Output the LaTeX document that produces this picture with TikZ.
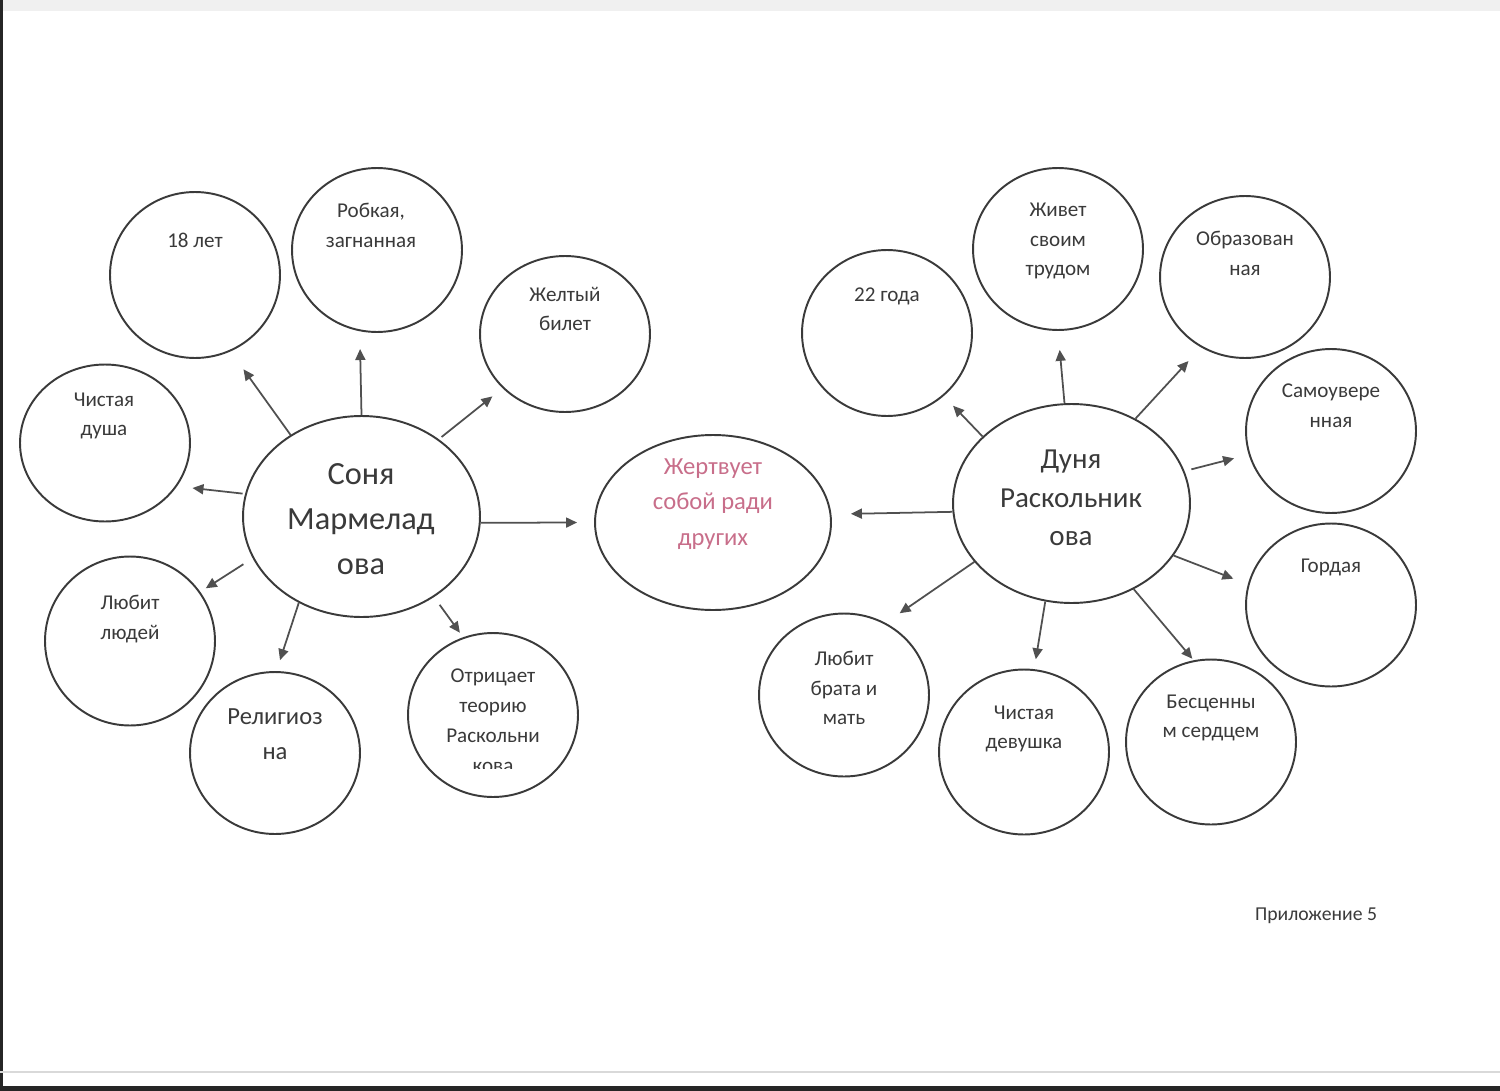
\documentclass[tikz,border=0pt]{standalone}
\usepackage{fontspec}
\setmainfont{Carlito}
\usetikzlibrary{shapes.geometric,arrows.meta}
\definecolor{ink}{HTML}{3A3A3A}
\definecolor{arrowgray}{HTML}{505050}
\definecolor{rosetext}{HTML}{C86E8A}
\tikzset{
  bub/.style={ellipse, draw=ink, line width=1.1pt, inner sep=0pt,
    minimum width=3.4cm, minimum height=3.28cm},
  hub/.style={bub, minimum width=4.74cm, minimum height=4.02cm},
  txt/.style={text=ink, align=center, inner sep=0pt,
    font=\fontsize{12}{17}\selectfont},
  link/.style={draw=arrowgray, line width=1pt,
    -{Triangle[length=2.2mm,width=2mm]}, shorten >=#1},
  link/.default=3mm
}
\begin{document}
\begin{tikzpicture}[x=0.02cm,y=-0.02cm]
\useasboundingbox (0,0) rectangle (1500,1091);
\fill[white] (0,0) rectangle (1500,1091);
% scan edges
\fill[black!6] (0,0) rectangle (1500,11);
\fill[black!85] (0,0) rectangle (3,1091);
\draw[black!15, line width=0.6pt] (0,1072) -- (1500,1072);
\fill[black!85] (0,1086) rectangle (1500,1091);
%
% Sonya
\node[hub] (soni) at (361.5,516.5) {};
\node[txt, font=\fontsize{18.4}{25.6}\selectfont] (soni-t) at (361,519) {Соня\\Мармелад\\ова};
\node[bub, minimum height=3.32cm] (age18) at (195,275) {};
\node[txt] (age18-t) at (195,240) {18 лет};
\node[bub] (robkaya) at (377,250) {};
\node[txt] (robkaya-t) at (371,225) {Робкая,\\загнанная};
\node[bub, minimum height=3.12cm] (bilet) at (565,334) {};
\node[txt] (bilet-t) at (565,309) {Желтый\\билет};
\node[bub, minimum height=3.14cm] (dusha) at (105,443) {};
\node[txt] (dusha-t) at (104,416) {Чистая\\душа};
\node[bub, minimum height=3.38cm] (lyudi) at (130,641) {};
\node[txt] (lyudi-t) at (130,619) {Любит\\людей};
\node[bub, minimum height=3.24cm] (religia) at (275,753) {};
\node[txt, font=\fontsize{14}{20}\selectfont] (religia-t) at (275,734) {Религиоз\\на};
\node[bub] (teoria) at (493,715) {};
\begin{scope}
  \clip (400,640) rectangle (590,768);
  \node[txt] (teoria-t) at (493,721) {Отрицает\\теорию\\Раскольни\\кова};
\end{scope}
%
% centre
\node[hub, minimum width=4.72cm, minimum height=3.5cm] (zhertva) at (713,522.5) {};
\node[txt, text=rosetext, font=\fontsize{14}{20}\selectfont] (zhertva-t) at (713,504) {Жертвует\\собой ради\\других};
%
% Dunya
\node[hub, minimum height=3.98cm] (duni) at (1071.5,503.5) {};
\node[txt, font=\fontsize{16.5}{21.9}\selectfont] (duni-t) at (1071,498) {Дуня\\Раскольник\\ова};
\node[bub, minimum height=3.32cm] (age22) at (887,333) {};
\node[txt] (age22-t) at (887,296) {22 года};
\node[bub, minimum height=3.24cm] (trud) at (1058,249) {};
\node[txt] (trud-t) at (1058,241) {Живет\\своим\\трудом};
\node[bub, minimum height=3.24cm] (obraz) at (1245,277) {};
\node[txt] (obraz-t) at (1245,253) {Образован\\ная};
\node[bub] (uveren) at (1331,431) {};
\node[txt] (uveren-t) at (1331,406) {Самоувере\\нная};
\node[bub, minimum height=3.26cm] (gordaya) at (1331,605) {};
\node[txt] (gordaya-t) at (1331,567) {Гордая};
\node[bub, minimum height=3.26cm] (brat) at (844,695) {};
\node[txt] (brat-t) at (844,688) {Любит\\брата и\\мать};
\node[bub, minimum height=3.3cm] (devushka) at (1024,752) {};
\node[txt] (devushka-t) at (1024,729) {Чистая\\девушка};
\node[bub, minimum height=3.3cm] (serdce) at (1211,742) {};
\node[txt] (serdce-t) at (1211,718) {Бесценны\\м сердцем};
%
\node[txt, font=\fontsize{11.2}{14}\selectfont] (prilozh) at (1316,916) {Приложение 5};
%
% arrows
\draw[link=4.4mm] (soni.131.3) -- (age18.295.2);
\draw[link=3.55mm] (soni.north) -- (robkaya.258.2);
\draw[link=2.6mm, shorten <=0.7mm] (soni.45.4) -- (bilet.221.7);
\draw[link=3.1mm, shorten <=0.5mm] (soni.169.7) -- (dusha.329);
\draw[link=3.4mm] (soni.-3) -- (zhertva.west);
\draw[link=1.3mm, shorten <=2.2mm] (soni.201) -- (lyudi.35.8);
\draw[link=2.3mm] (soni.234.2) -- (religia.89.1);
\draw[link=1.1mm, shorten <=1.9mm] (soni.312.2) -- (teoria.111.2);
%
\draw[link=3.9mm] (duni.184.6) -- (zhertva.4);
\draw[link=2.7mm] (duni.143.4) -- (age22.312.5);
\draw[link=3.8mm] (duni.94.9) -- (trud.270.7);
\draw[link=3.7mm] (duni.53.7) -- (obraz.238.1);
\draw[link=3mm, shorten <=1.4mm] (duni.16.7) -- (uveren.196.5);
\draw[link=3.1mm] (duni.333.5) -- (gordaya.166.9);
\draw[link=0.4mm] (duni.306.3) -- (serdce.102.5);
\draw[link=2mm] (duni.255.6) -- (devushka.83.7);
\draw[link=3.4mm] (duni.211.1) -- (brat.60.7);
\end{tikzpicture}
\end{document}
